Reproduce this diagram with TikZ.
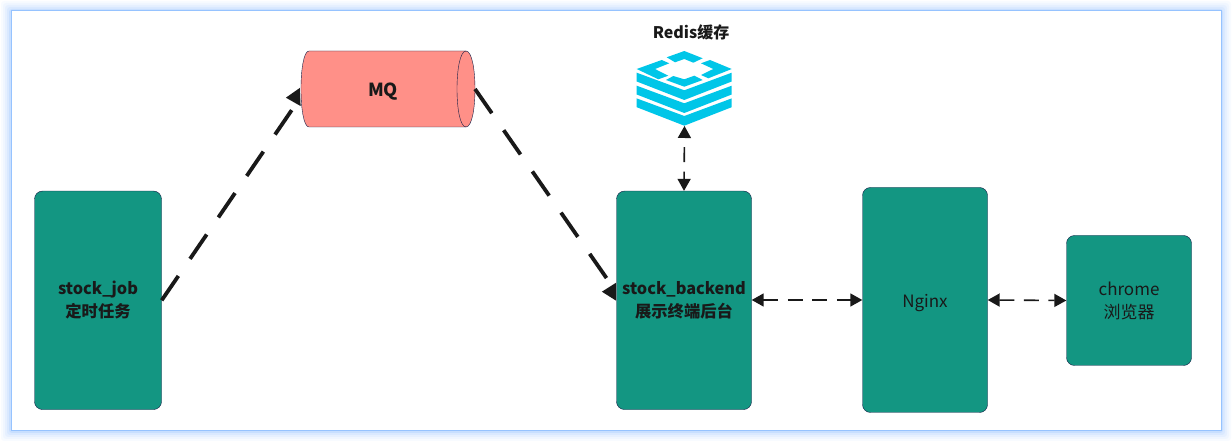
\documentclass[tikz,border=0pt]{standalone}
\usepackage{fontspec}
\setmainfont{Noto Sans CJK SC}
\usetikzlibrary{arrows.meta}
\definecolor{boxgreen}{RGB}{19,150,130}
\definecolor{boxline}{RGB}{20,30,70}
\definecolor{mqred}{RGB}{255,144,136}
\definecolor{rediscyan}{RGB}{0,198,232}
\definecolor{glowblue}{RGB}{150,195,255}
\definecolor{textdark}{RGB}{25,25,25}
\tikzset{
  box/.style = {draw = boxline, fill = boxgreen, rounded corners = 8pt, text = textdark, align = center, font = \fontsize{16.3}{23}\selectfont, inner sep = 0pt},
  thick dash/.style = {draw = textdark, line width = 3.8pt, dash pattern = on 29.5pt off 20.7pt, -{Triangle[length = 14.5pt, width = 17pt]}},
  thin dash/.style = {draw = textdark, line width = 1.6pt, dash pattern = on 15pt off 9.5pt, {Triangle[length = 12pt, width = 13pt]}-{Triangle[length = 12pt, width = 13pt]}}
}
\begin{document}
\begin{tikzpicture} [x = 1pt, y = -1pt]
\useasboundingbox (0,0) rectangle (1232,443);
\fill [white] (0,0) rectangle (1232,443);
% glow round the page
\foreach \w/\o in {10/.06, 8/.08, 6/.10, 4/.14, 2/.25}
  \fill [glowblue, opacity = \o, rounded corners = 3pt] (11-\w,11-\w) rectangle (1221+\w,431+\w);
\fill [white, draw = glowblue, line width = 1pt] (11,11) rectangle (1221,431);
% boxes
\node (job) [box, minimum width = 127pt, minimum height = 218.5pt] at (98,300.3) {\textbf{stock\_job}\\\textbf{定时任务}};
\node (backend) [box, minimum width = 135pt, minimum height = 218.5pt] at (684,300.3) {\textbf{stock\_backend}\\\textbf{展示终端后台}};
\node (nginx) [box, minimum width = 125pt, minimum height = 225pt, font = \fontsize{17}{23}\selectfont, text height = 16pt, text depth = 0pt] at (925,300) {Nginx};
\node (chrome) [box, minimum width = 125pt, minimum height = 130pt, font = \fontsize{17}{23}\selectfont] at (1129,300.5) {chrome\\浏览器};
% queue
\coordinate (mqwest) at (300.7,97);
\coordinate (mqwesttip) at (285.7,97.7);
\coordinate (mqeast) at (475,89);
\draw [boxline, fill = mqred] (309,51) -- (466,51) .. controls (478,51) and (478,127) .. (466,127) -- (309,127) .. controls (298.3,127) and (298.3,51) .. (309,51) -- cycle;
\draw [boxline] (466,51) .. controls (454,51) and (454,127) .. (466,127);
\node (mq) [text = textdark, font = \fontsize{18}{20}\selectfont\bfseries] at (383,91.5) {MQ};
% redis
\node (redistitle) [text = textdark, font = \fontsize{16}{20}\selectfont\bfseries] at (691,32.5) {Redis缓存};
\coordinate (redissouth) at (684.5,126);
\foreach \d in {0, 13, 25.7}
  \fill [rediscyan] (636.7,72.7+\d) -- (684.3,90.3+\d) -- (731.7,72.7+\d) -- (731.7,81.5+\d) -- (684.3,100+\d) -- (636.7,81.5+\d) -- cycle;
\fill [rediscyan] (666.7,57.3) -- (684.3,51) -- (702.7,58.3) -- (693.3,62.7) -- (684.3,59) -- (675,62.3) -- cycle;
\fill [rediscyan] (636.7,69) -- (661.7,60) -- (669.3,63.3) -- (655,69) -- (668.3,75.7) -- (658.3,79.3) -- cycle;
\fill [rediscyan] (701,63.3) -- (710,60) -- (731.7,69) -- (708.3,78.3) -- (701,75) -- (713.3,69) -- cycle;
\fill [rediscyan] (666,80) -- (673.3,76) -- (684.3,79.3) -- (694.3,75.7) -- (702.7,80) -- (684.3,86.7) -- cycle;
% connectors
\coordinate (backendwest) at (616,291.7);
\coordinate (backendtip) at (601.7,291.7);
\draw [thick dash] (job.east) -- (mqwest) -- (mqwesttip);
\draw [thick dash] (mqeast) -- (backendwest) -- (backendtip);
\draw [thin dash, dash phase = 15pt] (redissouth) -- (backend.north);
\draw [thin dash] (backend.east |- nginx.west) -- (nginx.west);
\draw [thin dash] (nginx.east) -- (chrome.west);
\end{tikzpicture}
\end{document}
